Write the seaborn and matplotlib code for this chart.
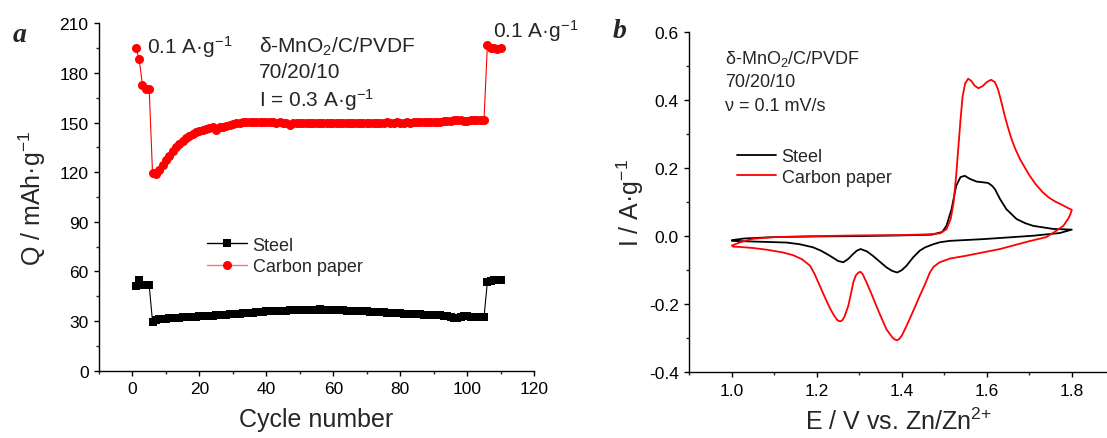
import numpy as np
import pandas as pd
import matplotlib
matplotlib.use("Agg")
import matplotlib.pyplot as plt
import seaborn as sns
from matplotlib.ticker import MultipleLocator, FormatStrFormatter

# Panel a: capacity vs cycle number
cycles = list(range(1, 111))

carbon_q = [
    195.0, 188.3, 172.8, 170.0, 170.0,
    119.3, 118.8,
    121.5, 124.5, 127.5, 130.0, 132.8, 135.2, 137.2, 139.0, 140.6, 142.0,
    143.0, 144.0, 144.9, 145.6, 146.2, 146.8, 147.2,
    145.2,
    147.3, 147.6, 148.0, 148.5, 149.0, 149.5, 149.9, 150.2,
    150.3, 150.4, 150.3, 150.4, 150.3, 150.2, 150.3, 150.1, 150.2, 150.0, 150.1, 150.0, 149.9,
    148.5,
    149.8, 149.9, 150.0, 149.8, 149.9, 149.7, 149.8, 149.9, 149.7, 149.8,
    149.9, 149.8, 149.7, 149.6, 149.8, 149.7, 149.9, 149.6, 149.7, 149.8,
    149.6, 149.8, 149.9, 149.7, 149.8, 150.0, 149.9, 149.8, 150.1, 149.9,
    150.0, 150.2, 149.9, 150.0, 150.1, 150.0, 150.2, 150.1,
    150.2, 150.3, 150.1, 150.4, 150.5, 150.4, 150.6, 150.8, 150.9, 151.0,
    151.3, 151.6, 151.4, 151.0, 151.2, 151.3, 151.4, 151.5, 151.6, 151.7,
    196.8, 195.3, 194.8, 194.6, 195.0,
]

steel_q = [
    51.3, 54.9, 51.8, 52.0, 51.5,
    29.5,
    30.8, 31.1, 31.3, 31.5, 31.7, 31.8, 32.0, 32.1, 32.2, 32.3, 32.4, 32.5, 32.6, 32.8,
    32.9, 33.0, 33.2, 33.3, 33.5, 33.6, 33.8, 33.9, 34.0, 34.2,
    34.3, 34.5, 34.6, 34.8, 34.9, 35.0, 35.2, 35.4, 35.5, 35.8,
    35.9, 36.0, 36.1, 36.2, 36.2, 36.3, 36.4, 36.4, 36.5, 36.5,
    36.6, 36.6, 36.6, 36.7, 36.7, 37.2, 36.7, 36.6, 36.6, 36.5,
    36.5, 36.4, 36.4, 36.3, 36.3, 36.2, 36.1, 36.0, 35.9, 35.8,
    35.7, 35.6, 35.5, 35.3, 35.2, 35.1, 35.0, 34.9, 34.8, 34.6,
    34.5, 34.4, 34.3, 34.2, 34.1, 34.0, 33.9, 33.8, 33.8, 33.7,
    33.6, 33.5, 33.3, 33.0, 32.5, 31.9, 32.0, 32.5, 32.8, 32.8,
    32.7, 32.6, 32.5, 32.4, 32.2,
    53.7, 54.4, 54.6, 54.6, 54.7,
]

# Panel b: cyclic voltammograms (anodic sweep then cathodic sweep)
carbon_e = [
    1.000, 1.020, 1.050, 1.100, 1.200, 1.300, 1.400, 1.460, 1.490, 1.505,
    1.515, 1.522, 1.528, 1.533, 1.538, 1.543, 1.549, 1.556, 1.563, 1.571,
    1.580, 1.590, 1.600, 1.610, 1.619, 1.626, 1.632, 1.642, 1.650, 1.658,
    1.668, 1.678, 1.690, 1.701, 1.715, 1.732, 1.745, 1.760, 1.775, 1.790, 1.800,
    1.796, 1.791, 1.780, 1.764, 1.740, 1.700, 1.631, 1.550, 1.513, 1.489, 1.475,
    1.466, 1.455, 1.442, 1.425, 1.411, 1.400, 1.394, 1.389, 1.384, 1.378, 1.364,
    1.352, 1.340, 1.328, 1.317, 1.308, 1.303, 1.298, 1.292, 1.286, 1.281, 1.274,
    1.265, 1.260, 1.256, 1.251, 1.247, 1.238, 1.231, 1.219, 1.207, 1.195, 1.184,
    1.165, 1.144, 1.120, 1.082, 1.050, 1.020, 1.003,
]
carbon_i = [
    -0.028, -0.018, -0.008, -0.003, 0.000, 0.002, 0.003, 0.005, 0.008, 0.020,
    0.050, 0.100, 0.180, 0.260, 0.340, 0.410, 0.448, 0.462, 0.456, 0.442,
    0.434, 0.440, 0.452, 0.459, 0.452, 0.432, 0.405, 0.354, 0.318, 0.285,
    0.253, 0.226, 0.200, 0.177, 0.152, 0.128, 0.114, 0.102, 0.093, 0.083, 0.077,
    0.062, 0.050, 0.030, 0.016, -0.003, -0.015, -0.038, -0.058, -0.066, -0.077, -0.090,
    -0.107, -0.140, -0.176, -0.225, -0.264, -0.292, -0.302, -0.306, -0.304, -0.298, -0.274,
    -0.240, -0.205, -0.168, -0.136, -0.112, -0.105, -0.107, -0.115, -0.135, -0.165, -0.205,
    -0.237, -0.247, -0.250, -0.249, -0.245, -0.228, -0.212, -0.180, -0.146, -0.112, -0.087,
    -0.068, -0.056, -0.048, -0.040, -0.035, -0.032, -0.031,
]

steel_e = [
    1.000, 1.030, 1.100, 1.200, 1.300, 1.400, 1.470, 1.495, 1.505, 1.517,
    1.528, 1.538, 1.548, 1.560, 1.576, 1.590, 1.603, 1.612, 1.619, 1.631,
    1.646, 1.670, 1.690, 1.709, 1.756, 1.800,
    1.772, 1.709, 1.650, 1.591, 1.513, 1.490, 1.474, 1.455, 1.442, 1.427,
    1.411, 1.400, 1.389, 1.377, 1.364, 1.348, 1.332, 1.318, 1.303, 1.294,
    1.285, 1.274, 1.262, 1.250, 1.231, 1.210, 1.191, 1.160, 1.129, 1.050,
    1.000,
]
steel_i = [
    -0.012, -0.007, -0.003, -0.001, 0.000, 0.002, 0.004, 0.012, 0.030, 0.079,
    0.148, 0.173, 0.177, 0.168, 0.160, 0.158, 0.156, 0.148, 0.138, 0.109,
    0.079, 0.050, 0.038, 0.030, 0.021, 0.019,
    0.009, 0.001, -0.004, -0.009, -0.014, -0.018, -0.024, -0.033, -0.043, -0.062,
    -0.087, -0.100, -0.107, -0.102, -0.092, -0.075, -0.058, -0.045, -0.038, -0.043,
    -0.053, -0.067, -0.077, -0.073, -0.058, -0.043, -0.033, -0.024, -0.019, -0.016,
    -0.014,
]

sns.set_style("ticks")
plt.rcParams["font.family"] = ["Liberation Sans", "DejaVu Sans"]
plt.rcParams["mathtext.default"] = "regular"
plt.rcParams["axes.linewidth"] = 1.0

fig = plt.figure(figsize=(11.07, 4.39), dpi=100)
ax1 = fig.add_axes([0.0894, 0.1535, 0.3932, 0.7911])
ax2 = fig.add_axes([0.6227, 0.1496, 0.3770, 0.7759])

# ---- panel a
df_cyc = pd.DataFrame({"Cycle": cycles, "Steel": steel_q, "Carbon": carbon_q})
sns.lineplot(data=df_cyc, x="Cycle", y="Steel", ax=ax1, color="black", linewidth=0.8,
             marker="s", markersize=6, markeredgewidth=0, label="Steel")
sns.lineplot(data=df_cyc, x="Cycle", y="Carbon", ax=ax1, color="red", linewidth=0.8,
             marker="o", markersize=6.5, markeredgewidth=0, label="Carbon paper")

ax1.set_xlim(-10, 120)
ax1.set_ylim(0, 210)
ax1.xaxis.set_major_locator(MultipleLocator(20))
ax1.xaxis.set_minor_locator(MultipleLocator(10))
ax1.yaxis.set_major_locator(MultipleLocator(30))
ax1.yaxis.set_minor_locator(MultipleLocator(15))
ax1.set_xlabel("Cycle number", fontsize=18, labelpad=8)
ax1.set_ylabel("Q / mAh\u00b7g$^{-1}$", fontsize=18, labelpad=8)

ax1.text(4.2, 196.5, "0.1 A\u00b7g$^{-1}$", fontsize=15, va="center")
ax1.text(107.6, 206.2, "0.1 A\u00b7g$^{-1}$", fontsize=15, va="center")
ax1.text(37.8, 196.5, "\u03b4-MnO$_2$/C/PVDF", fontsize=15, va="center")
ax1.text(37.8, 180.8, "70/20/10", fontsize=15, va="center")
ax1.text(37.8, 164.2, "I = 0.3 A\u00b7g$^{-1}$", fontsize=15, va="center")

leg1 = ax1.legend(loc="center left", bbox_to_anchor=(0.22, 0.33), frameon=False,
                  fontsize=13, handlelength=2.2, handletextpad=0.3, labelspacing=0.25,
                  borderpad=0.2)
for h in leg1.get_lines():
    h.set_linewidth(1.0)
leg1.get_lines()[1].set_color((1.0, 0.45, 0.45))
leg1.get_lines()[1].set_markerfacecolor("red")

# ---- panel b
df_red = pd.DataFrame({"E": carbon_e, "I": carbon_i})
df_blk = pd.DataFrame({"E": steel_e, "I": steel_i})
sns.lineplot(data=df_blk, x="E", y="I", ax=ax2, sort=False, estimator=None,
             color="black", linewidth=1.3, label="Steel")
sns.lineplot(data=df_red, x="E", y="I", ax=ax2, sort=False, estimator=None,
             color="red", linewidth=1.3, label="Carbon paper")

ax2.set_xlim(0.9, 1.882)
ax2.set_ylim(-0.4, 0.6)
ax2.xaxis.set_major_locator(MultipleLocator(0.2))
ax2.xaxis.set_minor_locator(MultipleLocator(0.1))
ax2.yaxis.set_major_locator(MultipleLocator(0.2))
ax2.yaxis.set_minor_locator(MultipleLocator(0.1))
ax2.xaxis.set_major_formatter(FormatStrFormatter("%.1f"))
ax2.yaxis.set_major_formatter(FormatStrFormatter("%.1f"))
ax2.set_xlabel("E / V vs. Zn/Zn$^{2{+}}$", fontsize=18, labelpad=7)
ax2.set_ylabel("I / A\u00b7g$^{-1}$", fontsize=18, labelpad=2)

ax2.text(0.984, 0.524, "\u03b4-MnO$_2$/C/PVDF", fontsize=13, va="center")
ax2.text(0.984, 0.453, "70/20/10", fontsize=13, va="center")
ax2.text(0.984, 0.382, "\u03bd = 0.1 mV/s", fontsize=13, va="center")

ax2.legend(loc="center left", bbox_to_anchor=(0.085, 0.603), frameon=False,
           fontsize=13, handlelength=2.15, handletextpad=0.3, labelspacing=0.2,
           borderpad=0.2)

for ax in (ax1, ax2):
    sns.despine(ax=ax)
    ax.tick_params(which="major", direction="out", length=3.5, width=1.0,
                   labelsize=12.5, colors="black", pad=4)
    ax.tick_params(which="minor", direction="out", length=2.0, width=1.0)
    for s in ax.spines.values():
        s.set_color("black")

fig.text(0.011, 0.905, "a", fontsize=20, fontweight="bold", style="italic",
         family="Liberation Serif", va="baseline")
fig.text(0.553, 0.913, "b", fontsize=20, fontweight="bold", style="italic",
         family="Liberation Serif", va="baseline")

fig.savefig("out.png", dpi=100)
